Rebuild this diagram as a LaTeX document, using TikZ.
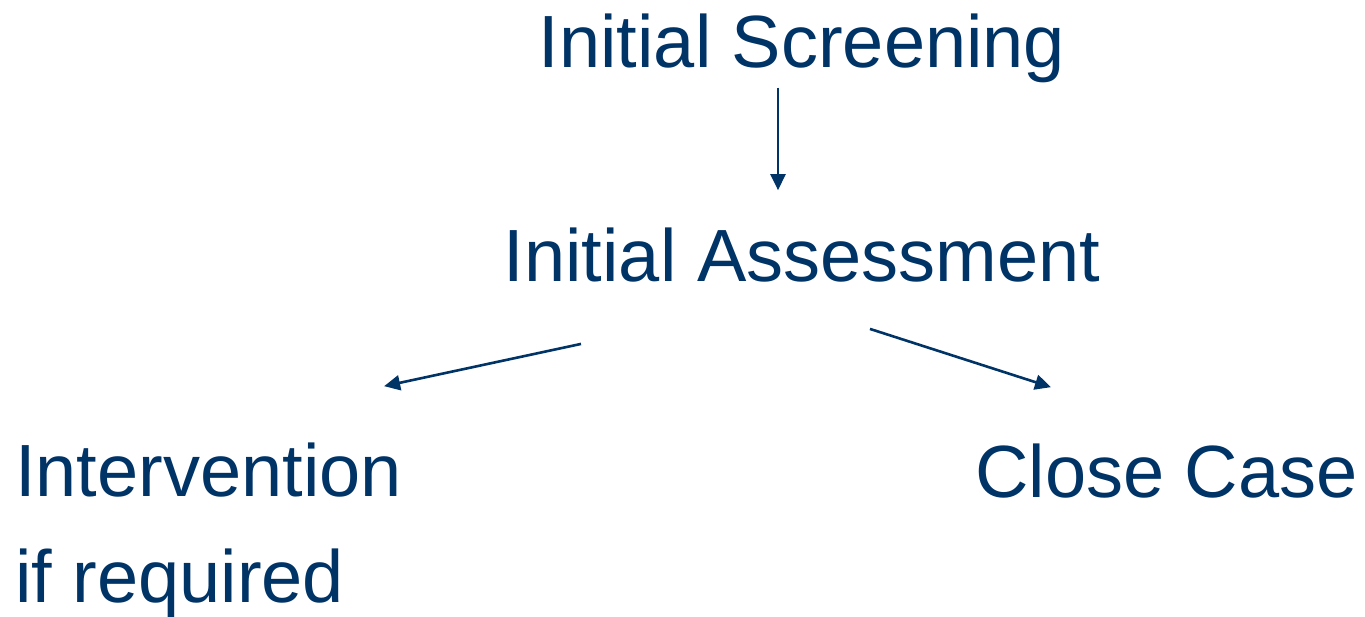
\documentclass[tikz,border=0pt]{standalone}
\usepackage{fontspec}
\setmainfont{Liberation Sans}
\usetikzlibrary{arrows.meta}
\definecolor{stepblue}{RGB}{0,51,102}

\begin{document}
\begin{tikzpicture}[x=1pt,y=-1pt,
  label/.style={text=stepblue,inner sep=0pt,font=\fontsize{74}{106}\selectfont},
  flow/.style={draw=stepblue,line width=2.6pt,-{Triangle[length=16pt,width=15pt]}}]
  \useasboundingbox (0,0) rectangle (1365,617);
  \node [label,anchor=base] (scr) at (802,68) {Initial Screening};
  \node [label,anchor=base] (ass) at (802,282) {Initial Assessment};
  \node [label,anchor=base west,align=left] (int) at (15,602) {Intervention\\if required};
  \node [label,anchor=base east] (cls) at (1358,497) {Close Case};
  \draw [flow] ([shift={(-24,4)}]scr.south) -- ([shift={(-24,-38)}]ass.north);
  \draw [flow] ([shift={(-221,61)}]ass.south) -- ([shift={(-18,-56)}]int.north east);
  \draw [flow] ([shift={(68,46)}]ass.south) -- ([shift={(-307,-56)}]cls.north east);
\end{tikzpicture}
\end{document}
